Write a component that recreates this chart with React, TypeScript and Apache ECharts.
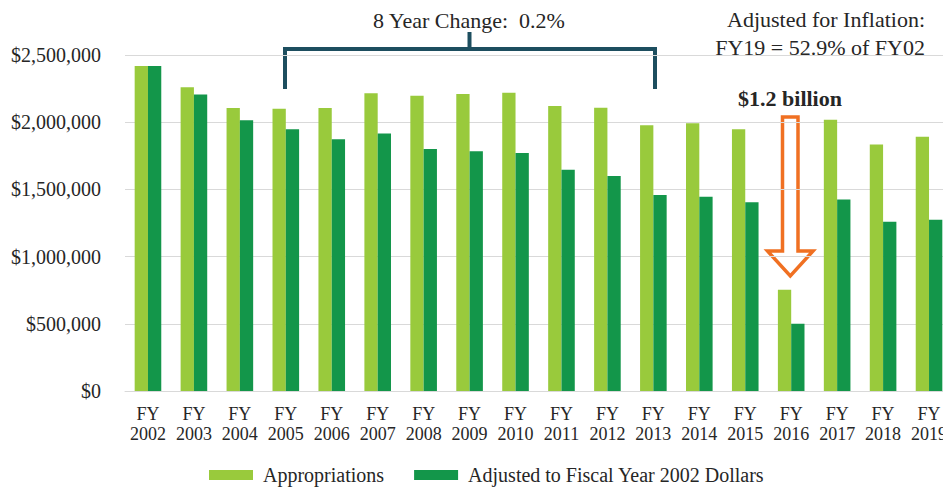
import React, { useEffect, useRef } from "react";
import * as echarts from "echarts";

const categories = [
  "FY\n2002", "FY\n2003", "FY\n2004", "FY\n2005", "FY\n2006", "FY\n2007",
  "FY\n2008", "FY\n2009", "FY\n2010", "FY\n2011", "FY\n2012", "FY\n2013",
  "FY\n2014", "FY\n2015", "FY\n2016", "FY\n2017", "FY\n2018", "FY\n2019",
];

const appropriations = [
  2418000, 2260000, 2106000, 2101000, 2106000, 2215000,
  2197000, 2210000, 2220000, 2121000, 2108000, 1977000,
  1992000, 1947000, 754000, 2019000, 1835000, 1892000,
];

const adjusted2002 = [
  2418000, 2207000, 2014000, 1947000, 1873000, 1915000,
  1801000, 1783000, 1771000, 1647000, 1600000, 1458000,
  1446000, 1404000, 501000, 1424000, 1260000, 1275000,
];

const seriesNames = ["Appropriations", "Adjusted to Fiscal Year 2002 Dollars"];

const FONT = "'Liberation Serif', 'Times New Roman', serif";
const LIGHT = "#99CA3C";
const DARK = "#13964A";
const BRACKET = "#1D4E5F";
const ORANGE = "#F07022";

export default function App() {
  const ref = useRef<HTMLDivElement>(null);

  useEffect(() => {
    if (!ref.current) return;
    const chart = echarts.init(ref.current, undefined, { renderer: "svg" });
    chart.setOption({
      animation: false,
      backgroundColor: "#ffffff",
      grid: { left: 125, right: 0, top: 55, bottom: 96, containLabel: false },
      legend: {
        left: 204,
        top: 460,
        itemWidth: 44,
        itemHeight: 10,
        itemGap: 30,
        icon: "rect",
        textStyle: { fontFamily: FONT, fontSize: 20, color: "#262626", padding: [0, 0, 0, 5] },
        data: seriesNames,
      },
      xAxis: {
        type: "category",
        data: categories,
        axisTick: { show: false },
        axisLine: { lineStyle: { color: "#D9D9D9", width: 1 } },
        axisLabel: {
          interval: 0,
          margin: 13,
          fontFamily: FONT,
          fontSize: 18,
          lineHeight: 20,
          color: "#262626",
        },
      },
      yAxis: {
        type: "value",
        min: 0,
        max: 2500000,
        interval: 500000,
        axisLine: { show: false },
        axisTick: { show: false },
        splitLine: { lineStyle: { color: "#D9D9D9", width: 1 } },
        axisLabel: {
          margin: 24,
          fontFamily: FONT,
          fontSize: 20,
          color: "#262626",
          formatter: (v: number) => "$" + v.toLocaleString("en-US"),
        },
      },
      series: [
        {
          name: seriesNames[0],
          type: "bar",
          data: appropriations,
          barWidth: 13.3,
          barGap: "0%",
          itemStyle: { color: LIGHT },
        },
        {
          name: seriesNames[1],
          type: "bar",
          data: adjusted2002,
          barWidth: 13.3,
          barGap: "0%",
          itemStyle: { color: DARK },
        },
      ],
      graphic: [
        {
          type: "text",
          x: 469,
          y: 20,
          style: {
            text: "8 Year Change:  0.2%",
            fontFamily: FONT,
            fontSize: 22,
            fill: "#262626",
            align: "center",
            verticalAlign: "middle",
          },
        },
        {
          type: "polyline",
          shape: { points: [[285, 89], [285, 49], [655, 49], [655, 89]] },
          style: { stroke: BRACKET, lineWidth: 4, fill: null },
        },
        {
          type: "line",
          shape: { x1: 469.5, y1: 32, x2: 469.5, y2: 49 },
          style: { stroke: BRACKET, lineWidth: 4 },
        },
        {
          type: "text",
          x: 925,
          y: 19,
          style: {
            text: "Adjusted for Inflation:",
            fontFamily: FONT,
            fontSize: 22,
            fill: "#262626",
            align: "right",
            verticalAlign: "middle",
          },
        },
        {
          type: "text",
          x: 925,
          y: 47,
          style: {
            text: "FY19 = 52.9% of FY02",
            fontFamily: FONT,
            fontSize: 22,
            fill: "#262626",
            align: "right",
            verticalAlign: "middle",
          },
        },
        {
          type: "text",
          x: 790,
          y: 98,
          style: {
            text: "$1.2 billion",
            fontFamily: FONT,
            fontSize: 22,
            fontWeight: "bold",
            fill: "#262626",
            align: "center",
            verticalAlign: "middle",
          },
        },
        {
          type: "polygon",
          shape: {
            points: [
              [782.5, 117], [798, 117], [798, 251], [813, 251],
              [790.3, 276], [767.5, 251], [782.5, 251],
            ],
          },
          style: { stroke: ORANGE, lineWidth: 3.5, fill: "#ffffff", lineJoin: "miter" },
        },
      ],
    });
    return () => chart.dispose();
  }, []);

  return (
    <div style={{ position: "fixed", left: 0, top: 0, width: 943, height: 487, overflow: "hidden" }}>
      <div ref={ref} style={{ width: 952, height: 487 }} />
    </div>
  );
}
